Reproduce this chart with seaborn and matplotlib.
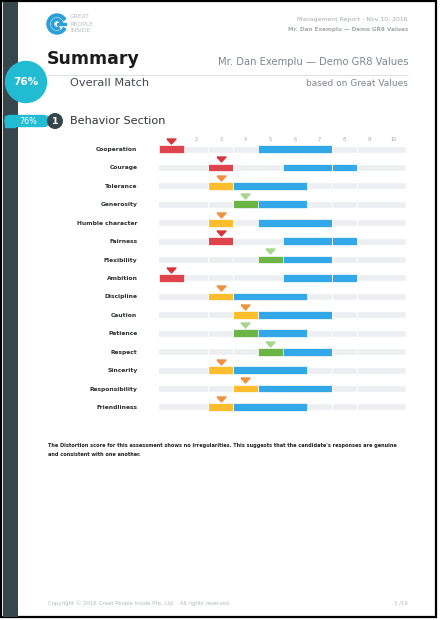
import matplotlib
matplotlib.use("Agg")
import matplotlib.pyplot as plt
import matplotlib.patches as mpatches
import seaborn as sns

# --- data -----------------------------------------------------------------
behaviors = ["Cooperation", "Courage", "Tolerance", "Generosity",
             "Humble character", "Fairness", "Flexibility", "Ambition",
             "Discipline", "Caution", "Patience", "Respect", "Sincerity",
             "Responsibility", "Friendliness"]
scores = [1, 3, 3, 4, 3, 3, 5, 1, 3, 4, 4, 5, 3, 4, 3]
levels = ["low", "low", "mid", "high", "mid", "low", "high", "low",
          "mid", "mid", "high", "high", "mid", "mid", "mid"]
ideal_lo = [5, 6, 4, 4, 5, 6, 5, 6, 4, 5, 4, 5, 4, 5, 4]
ideal_hi = [7, 8, 6, 6, 7, 8, 7, 8, 6, 7, 6, 7, 6, 7, 6]
scale_ticks = [2, 3, 4, 5, 6, 7, 8, 9, 10]
overall_match = "76%"
section_match = "76%"

BAR_COL = {"low": "#e0434c", "mid": "#fdbd2c", "high": "#6db447"}
TRI_COL = {"low": "#d9343c", "mid": "#ef9240", "high": "#a6d68c"}
BLUE = "#33a8e8"
TRACK = "#eceef1"
TEAL = "#22bcd2"
DARK = "#37464d"

sns.set_theme(style="white")
plt.rcParams["font.family"] = ["DejaVu Sans"]

fig = plt.figure(figsize=(4.4, 6.2), dpi=100, facecolor="white")

# --- page decoration (pixel coordinates) ----------------------------------
bg = fig.add_axes([0, 0, 1, 1])
bg.set_xlim(0, 440)
bg.set_ylim(620, 0)
bg.axis("off")

bg.add_patch(mpatches.Rectangle((1, 1), 435, 616, facecolor="white",
                                edgecolor="black", lw=1.6, zorder=0))
bg.add_patch(mpatches.Rectangle((2.5, 2), 15.5, 615, facecolor=DARK,
                                edgecolor="none", zorder=1))

# logo
bg.add_patch(mpatches.Wedge((57, 24), 10, 30, 330, width=2.6,
                            color="#2a9fd8", zorder=2))
bg.add_patch(mpatches.Wedge((57, 24), 5.6, 60, 360, width=2.2,
                            color="#2a9fd8", zorder=2))
bg.add_patch(mpatches.Rectangle((57, 22.9), 9, 2.4, color="#2a9fd8", zorder=2))
for i, word in enumerate(["GREAT", "PEOPLE", "INSIDE"]):
    bg.text(70, 17 + i * 7, word, fontsize=4.3, color="#b8bcc0",
            va="center", ha="left")

bg.text(408, 19, "Management Report - Nov 10, 2016", fontsize=4.4,
        color="#a4a9ae", ha="right", va="center")
bg.text(408, 30, "Mr. Dan Exemplu \u2014 Demo GR8 Values", fontsize=4.1,
        color="#a4a9ae", ha="right", va="center", fontweight="bold")

bg.text(47, 59, "Summary", fontsize=12.5, fontweight="bold",
        color="#1b1b1b", ha="left", va="center")
bg.text(408, 62, "Mr. Dan Exemplu \u2014 Demo GR8 Values", fontsize=7.2,
        color="#7f878e", ha="right", va="center")
bg.plot([48, 408], [75, 75], color="#dde1e4", lw=0.8, zorder=1)
bg.text(70, 83, "Overall Match", fontsize=8.2, color="#444a50",
        ha="left", va="center")
bg.text(408, 84, "based on Great Values", fontsize=6.5, color="#7f878e",
        ha="right", va="center")

bg.add_patch(mpatches.Circle((26, 82), 20.5, color=TEAL, zorder=3))
bg.text(26, 82, overall_match, fontsize=7.5, fontweight="bold",
        color="white", ha="center", va="center", zorder=4)

bg.add_patch(mpatches.FancyBboxPatch((5, 115.5), 44, 11,
                                     boxstyle="round,pad=0,rounding_size=5.5",
                                     color=TEAL, zorder=3))
bg.add_patch(mpatches.Rectangle((5, 115.5), 10, 11, color=TEAL, zorder=3))
bg.text(28, 121.3, section_match, fontsize=5.8, color="white",
        ha="center", va="center", zorder=4)
bg.add_patch(mpatches.Circle((55, 121), 7.3, color=DARK, zorder=4))
bg.text(55, 121.3, "1", fontsize=6.8, fontweight="bold", color="white",
        ha="center", va="center", zorder=5)
bg.text(70, 121, "Behavior Section", fontsize=8.1, color="#2d3236",
        ha="left", va="center")

bg.text(48, 445, "The Distortion score for this assessment shows no irregularities. "
        "This suggests that the candidate's responses are genuine",
        fontsize=3.6, fontweight="bold", color="#222", ha="left", va="center")
bg.text(48, 455, "and consistent with one another.",
        fontsize=3.6, fontweight="bold", color="#222", ha="left", va="center")

bg.text(48, 603, "Copyright \u00a9 2016 Great People Inside Pte. Ltd. . All rights reserved.",
        fontsize=3.9, color="#b3b8bc", ha="left", va="center")
bg.text(408, 603, "3 /19", fontsize=3.9, color="#b3b8bc", ha="right", va="center")

# --- behavior chart -------------------------------------------------------
# x: 0.5 -> 159px, 10.5 -> 406px ; rows 0..14 -> 149px..407px
ax = fig.add_axes([159 / 440, 1 - 418 / 620, 247 / 440, (418 - 130.6) / 620])
ax.set_facecolor("none")

track_len = [10.5] * len(behaviors)
sns.barplot(x=track_len, y=behaviors, orient="h", color=TRACK,
            width=0.38, saturation=1, ax=ax)

rows = range(len(behaviors))
ax.barh(list(rows), [h - l + 1 for l, h in zip(ideal_lo, ideal_hi)],
        left=[l - 0.5 for l in ideal_lo], height=0.42, color=BLUE,
        edgecolor="white", linewidth=0.5, zorder=3)
ax.barh(list(rows), [1] * len(scores), left=[s - 0.5 for s in scores],
        height=0.42, color=[BAR_COL[v] for v in levels],
        edgecolor="white", linewidth=0.5, zorder=4)

for x in [2.5, 3.5, 7.5, 8.5]:
    ax.axvline(x, color="white", lw=0.7, zorder=5)

tri = [(-1, 0.55), (1, 0.55), (0, -0.55), (-1, 0.55)]
for r, s, v in zip(rows, scores, levels):
    ax.plot(s, r - 0.44, marker=tri, markersize=6.5, color=TRI_COL[v],
            linestyle="none", zorder=6, clip_on=False)

for t in scale_ticks:
    ax.text(t, -0.5, str(t), fontsize=3.6, color="#9fa5aa",
            ha="center", va="center")

ax.set_xlim(0.5, 10.5)
ax.set_ylim(14.6, -1.0)
ax.set_xticks([])
ax.set_xlabel("")
ax.set_ylabel("")
ax.tick_params(axis="y", length=0, pad=15.5, labelsize=4.3,
               labelcolor="#2b2f33")
for lab in ax.get_yticklabels():
    lab.set_fontweight("bold")
sns.despine(ax=ax, left=True, bottom=True)

fig.savefig("out.png", dpi=100, facecolor="white")
